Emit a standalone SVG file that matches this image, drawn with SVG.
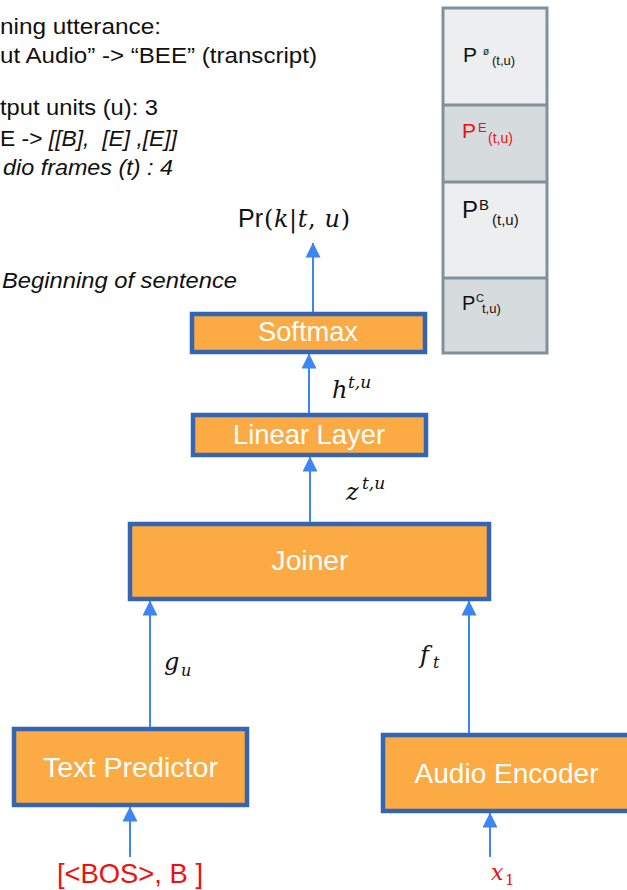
<svg xmlns="http://www.w3.org/2000/svg" width="627" height="890" viewBox="0 0 627 890">
<style>
.t{font-family:"Liberation Sans",Arial,sans-serif;fill:#111}
.it{font-style:italic}
.box{fill:#fcaa43;stroke:#3465b2;stroke-width:4.5}
.lbl{font-family:"Liberation Sans",Arial,sans-serif;font-size:28px;fill:#fff;text-anchor:middle}
.m{font-family:"DejaVu Serif","Liberation Serif",serif;font-style:italic;fill:#111}
.cell1{fill:#eceef0}
.cell2{fill:#d6dbde}
.conn{stroke:#3d85f0;stroke-width:2;fill:none;marker-end:url(#ah)}
</style>
<defs>
<marker id="ah" markerUnits="userSpaceOnUse" markerWidth="15" markerHeight="15" viewBox="0 0 15 15" refX="14.5" refY="7.5" orient="auto">
<path d="M0,0 L15,7.5 L0,15 z" fill="#3d85f0"/>
</marker>
</defs>

<g id="notes">
<text class="t" x="0" y="34" font-size="22" textLength="161" lengthAdjust="spacingAndGlyphs">ning utterance:</text>
<text class="t" x="0" y="63" font-size="22" textLength="317" lengthAdjust="spacingAndGlyphs">ut Audio” -&gt; “BEE” (transcript)</text>
<text class="t" x="0" y="115" font-size="22" textLength="158" lengthAdjust="spacingAndGlyphs">tput units (u): 3</text>
<text class="t" x="0" y="146" font-size="22" textLength="177" lengthAdjust="spacingAndGlyphs" xml:space="preserve">E -&gt; <tspan class="it">[[B],  [E] ,[E]]</tspan></text>
<text class="t it" x="3" y="175" font-size="22" textLength="170" lengthAdjust="spacingAndGlyphs">dio frames (t) : 4</text>
<text class="t it" x="2" y="288" font-size="22" textLength="235" lengthAdjust="spacingAndGlyphs">Beginning of sentence</text>
</g>

<g id="prob-panel">
<rect class="cell1" x="443" y="8" width="104" height="97"/>
<rect class="cell2" x="443" y="105" width="104" height="77"/>
<rect class="cell1" x="443" y="182" width="104" height="96"/>
<rect class="cell2" x="443" y="278" width="104" height="75"/>
<g stroke="#7f919d" stroke-width="3" fill="none">
<rect x="443" y="8" width="104" height="345"/>
<line x1="443" y1="105" x2="547" y2="105"/>
<line x1="443" y1="182" x2="547" y2="182"/>
<line x1="443" y1="278" x2="547" y2="278"/>
</g>
<text class="t" x="463" y="62" font-size="21">P</text>
<text class="t" x="483" y="55" font-size="10">ø</text>
<text class="t" x="492" y="65" font-size="13">(t,u)</text>
<text class="t" x="462" y="138" font-size="21" style="fill:#f01010">P</text>
<text class="t" x="478" y="132" font-size="13" style="fill:#f01010">E</text>
<text class="t" x="488" y="143" font-size="14" style="fill:#f01010">(t,u)</text>
<text class="t" x="462" y="218" font-size="24">P</text>
<text class="t" x="479" y="210" font-size="15">B</text>
<text class="t" x="492" y="225" font-size="15">(t,u)</text>
<text class="t" x="462" y="310" font-size="20">P</text>
<text class="t" x="476" y="302" font-size="11">C</text>
<text class="t" x="482" y="313" font-size="13">t,u)</text>
</g>

<g id="output">
<text class="t" x="238" y="227" font-size="25">Pr</text>
<text class="m" x="264" y="227" font-size="24" textLength="86" lengthAdjust="spacing"><tspan font-style="normal">(</tspan>k<tspan font-style="normal">|</tspan>t<tspan font-style="normal">, </tspan>u<tspan font-style="normal">)</tspan></text>
</g>

<g id="softmax">
<rect class="box" x="192" y="314" width="233" height="38"/>
<text class="lbl" x="308" y="341" textLength="100" lengthAdjust="spacingAndGlyphs">Softmax</text>
</g>

<g id="linear-layer">
<rect class="box" x="193" y="415" width="233" height="40"/>
<text class="lbl" x="309" y="444" textLength="152" lengthAdjust="spacingAndGlyphs">Linear Layer</text>
</g>

<g id="joiner">
<rect class="box" x="130" y="524" width="359" height="75"/>
<text class="lbl" x="310" y="570" textLength="77" lengthAdjust="spacingAndGlyphs">Joiner</text>
</g>

<g id="text-predictor">
<rect class="box" x="14" y="729" width="233" height="76"/>
<text class="lbl" x="130.5" y="777" textLength="175" lengthAdjust="spacingAndGlyphs">Text Predictor</text>
</g>

<g id="audio-encoder">
<rect class="box" x="383" y="735" width="250" height="76"/>
<text class="lbl" x="506.5" y="783" textLength="184" lengthAdjust="spacingAndGlyphs">Audio Encoder</text>
</g>

<g id="inputs">
<text class="t" x="57" y="883" font-size="28" textLength="146" lengthAdjust="spacingAndGlyphs" style="fill:#f01010">[&lt;BOS&gt;, B ]</text>
<text class="m" x="491" y="880" font-size="22" style="fill:#f01010">x</text>
<text class="m" x="505" y="885" font-size="15" style="fill:#f01010;font-style:normal">1</text>
</g>

<g id="connectors">
<line class="conn" x1="313" y1="312" x2="313" y2="243"/>
<line class="conn" x1="309" y1="413" x2="309" y2="354"/>
<line class="conn" x1="310" y1="522" x2="310" y2="457"/>
<line class="conn" x1="150" y1="727" x2="150" y2="601"/>
<line class="conn" x1="469" y1="733" x2="469" y2="601"/>
<line class="conn" x1="130" y1="857" x2="130" y2="807"/>
<line class="conn" x1="490" y1="857" x2="490" y2="813"/>
</g>

<g id="connector-labels">
<text class="m" x="332" y="398" font-size="24">h</text>
<text class="m" x="348" y="388" font-size="17">t,u</text>
<text class="m" x="346" y="500" font-size="24">z</text>
<text class="m" x="362" y="489" font-size="17">t,u</text>
<text class="m" x="164" y="670" font-size="24">g</text>
<text class="m" x="181" y="676" font-size="16">u</text>
<text class="m" x="420" y="663" font-size="24">f</text>
<text class="m" x="433" y="668" font-size="16">t</text>
</g>
</svg>
